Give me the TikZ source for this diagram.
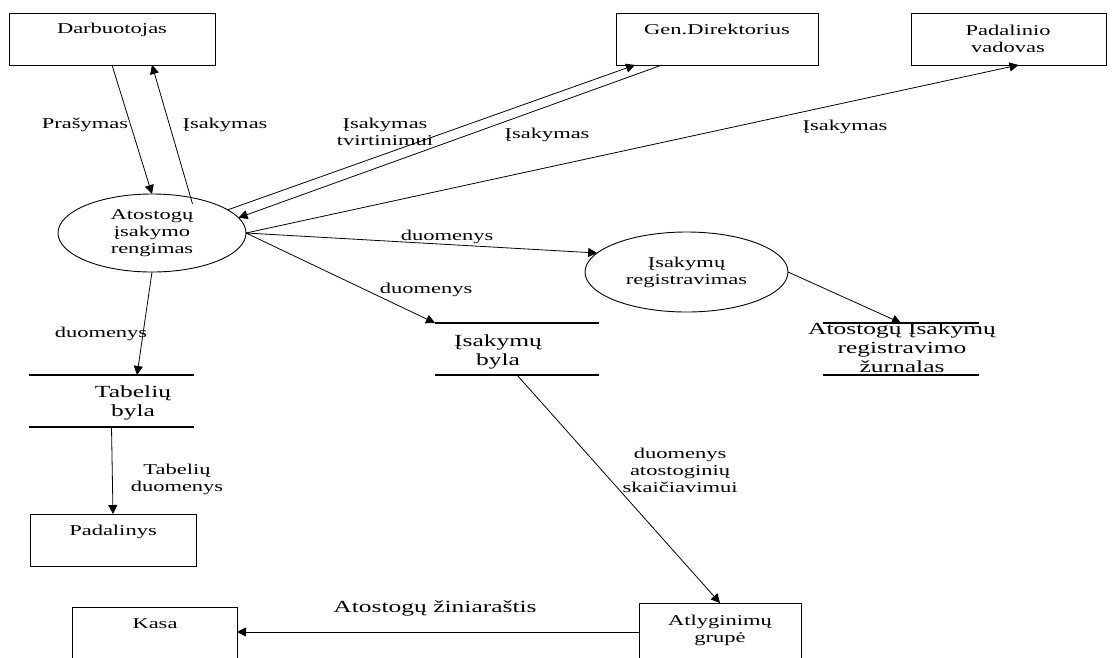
\documentclass[tikz,border=0pt]{standalone}
\usepackage{fontspec}
\setmainfont{Liberation Serif}[FakeStretch=1.5]
\usetikzlibrary{arrows.meta,shapes.geometric}

\begin{document}
\begin{tikzpicture}[x=1pt,y=-1pt,
  every node/.style={inner sep=0pt, outer sep=0pt},
  sm/.style={font=\fontsize{15}{17}\selectfont, align=center},
  lg/.style={font=\fontsize{17}{19}\selectfont, align=center},
  entity/.style={draw, line width=0.9pt, minimum height=52pt},
  process/.style={draw, ellipse, line width=0.9pt, sm},
  store/.style={minimum height=52pt},
  storeline/.style={line width=1.3pt},
  flow/.style={line width=0.8pt, -{Triangle[length=9pt,width=9pt]}},
]
\clip (0,0) rectangle (1114,657);
\fill[white] (0,0) rectangle (1114,657);

% external entities
\node[entity, minimum width=206pt] (darb) at (112,39) {};
\node[sm, anchor=base] (darbt) at (112,33) {Darbuotojas};
\node[entity, minimum width=202pt] (gen) at (717,39) {};
\node[sm, anchor=base] (gent) at (717,34) {Gen.Direktorius};
\node[entity, minimum width=195pt] (pad) at (1008.5,39) {};
\node[sm, anchor=north] (padt) at (1008,24.8) {Padalinio\\vadovas};
\node[entity, minimum width=166pt] (pdl) at (113,540) {};
\node[sm, anchor=base] (pdlt) at (113,535) {Padalinys};
\node[entity, minimum width=165pt, minimum height=58pt] (kasa) at (154.5,636) {};
\node[sm, anchor=base] (kasat) at (155,628) {Kasa};
\node[entity, minimum width=162pt, minimum height=60pt] (atl) at (720,633) {};
\node[sm, anchor=north] (atlt) at (720,614.8) {Atlyginimų\\grupė};

% processes
\node[process, minimum width=188pt, minimum height=78pt] (reng) at (152,233) {Atostogų\\įsakymo\\rengimas};
\node[process, minimum width=203pt, minimum height=80pt] (reg) at (686.5,272) {Įsakymų\\registravimas};

% data stores
\node[store, minimum width=165pt] (tab) at (111.5,401) {};
\draw[storeline] (tab.north west) -- (tab.north east) (tab.south west) -- (tab.south east);
\node[lg, anchor=north] (tabt) at (133,385.4) {Tabelių\\byla};
\node[store, minimum width=164pt] (byla) at (517,349) {};
\draw[storeline] (byla.north west) -- (byla.north east) (byla.south west) -- (byla.south east);
\node[lg, anchor=north] (bylat) at (498,334.4) {Įsakymų\\byla};
\node[store, minimum width=156pt] (zur) at (901,349) {};
\draw[storeline] (zur.north west) -- (zur.north east) (zur.south west) -- (zur.south east);
\node[lg, anchor=north] (zurt) at (902,322.4) {Atostogų Įsakymų\\registravimo\\žurnalas};

% data flows
\draw[flow] (darb.south) -- (reng.north);
\draw[flow] ([yshift=-6pt]reng.41) -- ([xshift=40pt]darb.south);
\draw[flow] (reng.17) -- ([xshift=-82pt]gen.south);
\draw[flow] ([xshift=-55pt]gen.south) -- (reng.10);
\draw[flow] (reng.east) -- ([xshift=10pt]pad.south);
\draw[flow] (reng.east) -- (reg.168);
\draw[flow] (reng.east) -- (byla.north west);
\draw[flow] (reng.south) -- ([xshift=25.5pt]tab.north);
\draw[flow] (tab.south) -- (pdl.north);
\draw[flow] (reg.east) -- (zur.north);
\draw[flow] (byla.south) -- (atl.north);
\draw[flow] ([yshift=1pt]atl.west) -- ([yshift=1pt]atl.west -| kasa.east);

% flow labels
\node[sm, anchor=base] (l1) at (85,128) {Prašymas};
\node[sm, anchor=base] (l2) at (225,128) {Įsakymas};
\node[sm, anchor=north] (l3) at (385,117.8) {Įsakymas\\tvirtinimui};
\node[sm, anchor=base] (l4) at (547,138) {Įsakymas};
\node[sm, anchor=base] (l5) at (845,130) {Įsakymas};
\node[sm, anchor=base] (l6) at (447,240) {duomenys};
\node[sm, anchor=base] (l7) at (426,293) {duomenys};
\node[sm, anchor=base] (l8) at (101,337) {duomenys};
\node[sm, anchor=north] (l9) at (177,463.8) {Tabelių\\duomenys};
\node[sm, anchor=north] (l10) at (680,447.8) {duomenys\\atostoginių\\skaičiavimui};
\node[lg, anchor=base] (l11) at (435,612) {Atostogų žiniaraštis};
\end{tikzpicture}
\end{document}
